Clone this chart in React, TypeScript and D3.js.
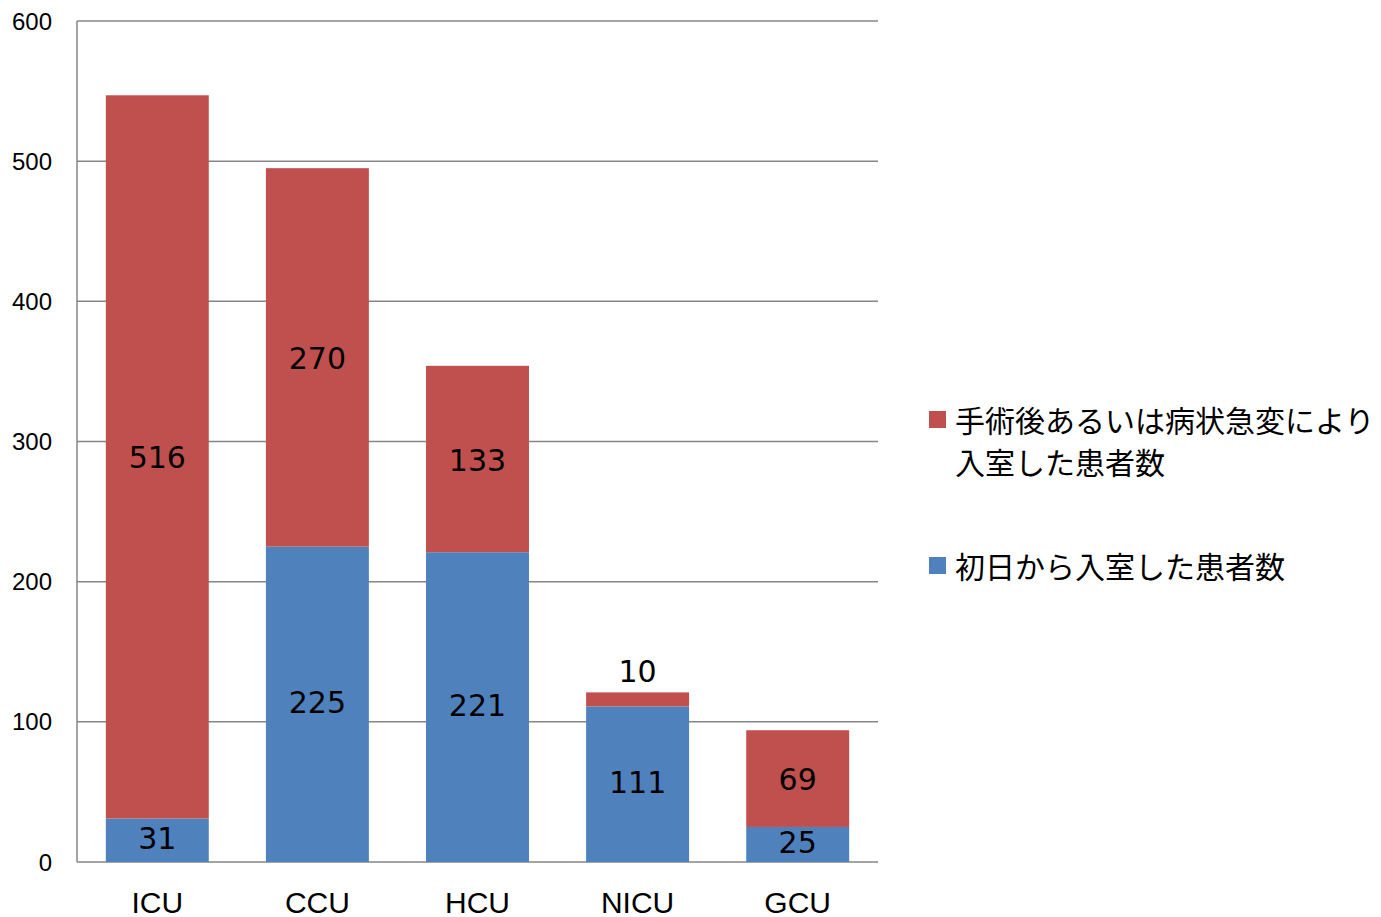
import React from 'react';
import * as d3 from 'd3';

const categories = ['ICU', 'CCU', 'HCU', 'NICU', 'GCU'];
const fromFirstDay = [31, 225, 221, 111, 25];
const afterSurgery = [516, 270, 133, 10, 69];
const yTicks = [0, 100, 200, 300, 400, 500, 600];
const seriesNames = ['手術後あるいは病状急変により', '入室した患者数'];
const seriesName2 = '初日から入室した患者数';

const RED = '#C0504D';
const BLUE = '#4F81BD';
const GRID = '#868686';

function App() {
  const width = 1381;
  const height = 917;
  const margin = { top: 21, right: 503, bottom: 55, left: 77 };

  const x = d3.scaleBand()
    .domain(categories)
    .range([margin.left, width - margin.right])
    .paddingInner(0.357)
    .paddingOuter(0.18);

  const y = d3.scaleLinear()
    .domain([0, 600])
    .range([height - margin.bottom, margin.top]);

  const rows = categories.map((c, i) => ({ c, blue: fromFirstDay[i], red: afterSurgery[i] }));
  const labelFont = "'DejaVu Sans', 'Noto Sans', sans-serif";

  return (
    <svg width={width} height={height} style={{ position: 'absolute', left: 0, top: 0, background: '#fff' }}>
      {/* grid */}
      {yTicks.map(t => (
        <g key={t}>
          <line x1={margin.left} x2={width - margin.right} y1={y(t)} y2={y(t)} stroke={GRID} strokeWidth={1.5} />
          <text x={52} y={y(t)} textAnchor="end" dominantBaseline="central"
            fontFamily="'Liberation Sans', Arial, sans-serif" fontSize={24} fill="#000">{t}</text>
        </g>
      ))}
      <line x1={margin.left} x2={margin.left} y1={y(0)} y2={y(600)} stroke={GRID} strokeWidth={1.5} />

      {rows.map(r => {
        const x0 = x(r.c)!;
        const bw = x.bandwidth();
        const cx = x0 + bw / 2;
        const redTop = y(r.blue + r.red);
        const redBottom = y(r.blue);
        const redH = redBottom - redTop;
        const redLabelY = redH < 30 ? redTop - 22 : (redTop + redBottom) / 2;
        const blueLabelY = (y(r.blue) + y(0)) / 2;
        return (
          <g key={r.c}>
            <rect x={x0} width={bw} y={y(r.blue)} height={y(0) - y(r.blue)} fill={BLUE} />
            <rect x={x0} width={bw} y={redTop} height={redH} fill={RED} />
            <text x={cx} y={blueLabelY - 2} textAnchor="middle" dominantBaseline="central"
              fontFamily={labelFont} fontSize={30} fill="#000">{r.blue}</text>
            <text x={cx} y={redLabelY + 1} textAnchor="middle" dominantBaseline="central"
              fontFamily={labelFont} fontSize={30} fill="#000">{r.red}</text>
            <text x={cx} y={902} textAnchor="middle" dominantBaseline="central"
              fontFamily="'Liberation Sans', Arial, sans-serif" fontSize={30} fill="#000">{r.c}</text>
          </g>
        );
      })}

      {/* legend */}
      <rect x={929} y={411} width={17} height={17} fill={RED} />
      <text x={955} y={419} dominantBaseline="central" fontFamily="'Noto Sans CJK JP', sans-serif" fontSize={30} fill="#000">{seriesNames[0]}</text>
      <text x={955} y={461} dominantBaseline="central" fontFamily="'Noto Sans CJK JP', sans-serif" fontSize={30} fill="#000">{seriesNames[1]}</text>
      <rect x={929} y={557} width={17} height={17} fill={BLUE} />
      <text x={955} y={565} dominantBaseline="central" fontFamily="'Noto Sans CJK JP', sans-serif" fontSize={30} fill="#000">{seriesName2}</text>
    </svg>
  );
}

export default App;
